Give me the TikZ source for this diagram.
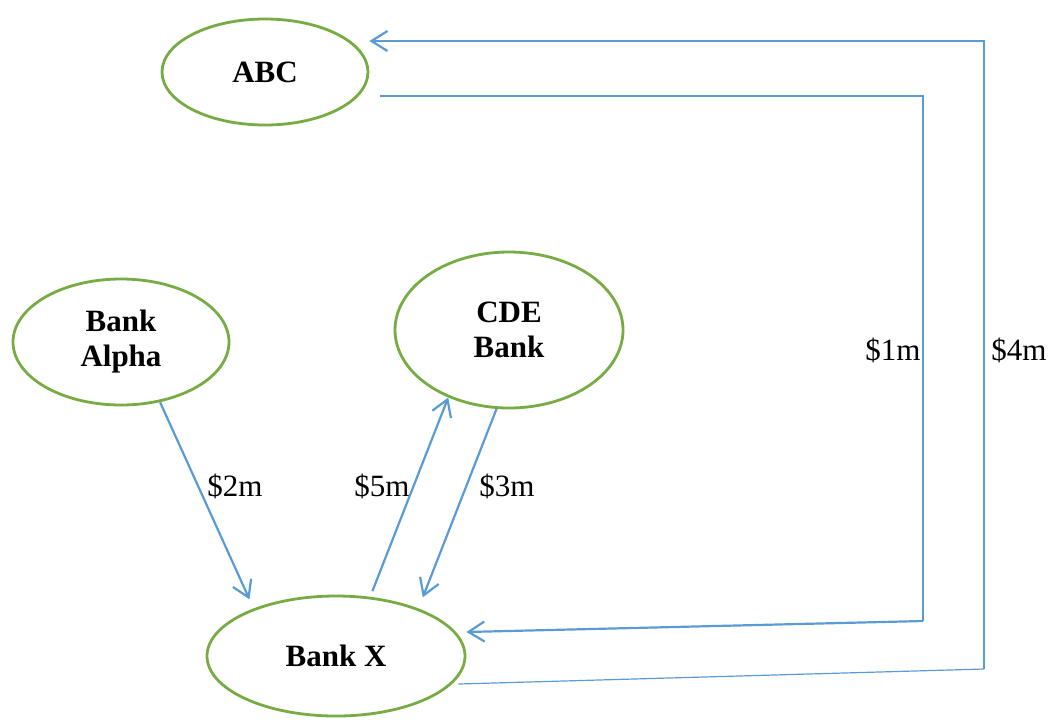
\documentclass[tikz,border=0pt]{standalone}
\usepackage{fontspec}
\setmainfont{Liberation Serif}
\usetikzlibrary{arrows.meta,shapes.geometric}
\definecolor{flowblue}{HTML}{5B9BD5}
\definecolor{bankgreen}{HTML}{77AB43}
\tikzset{
  party/.style={draw=bankgreen, ellipse, line width=1.4pt, font=\fontsize{15.5}{17.5}\selectfont\bfseries, align=center, inner sep=0pt},
  flow/.style={draw=flowblue, line width=1.1pt, -{Straight Barb[length=8pt,width=10pt]}},
  amt/.style={font=\fontsize{15.5}{17.5}\selectfont, inner sep=0pt}
}

\begin{document}
\begin{tikzpicture}[x=0.5pt, y=-0.5pt]
\useasboundingbox (0,0) rectangle (1053,719);
\node[party, minimum width=103pt, minimum height=53pt] (abc) at (265,72) {ABC};
\node[party, minimum width=108pt, minimum height=63pt] (alpha) at (121,342) {Bank\\Alpha};
\node[party, minimum width=114pt, minimum height=78pt] (cde) at (509,330) {CDE\\Bank};
\node[party, minimum width=129pt, minimum height=60pt] (bankx) at (336,656) {Bank X};

\coordinate (c1) at (923,96);
\coordinate (c2) at (923,621);
\coordinate (c3) at (984,669);
\coordinate (c4) at (984,41);

\draw[flow, -] ([xshift=5.5pt,yshift=-12pt]abc.east) -- (c1) -- (c2);
\draw[flow] (c2) -- ([yshift=12pt]bankx.east);
\draw[flow, -, line width=0.6pt] ([xshift=-4pt,yshift=-14pt]bankx.east) -- (c3);
\draw[flow] (c3) -- (c4) -- (c4 -| abc.east);
\draw[flow, shorten >=5pt] (alpha.-57) -- (bankx.150);
\draw[flow, shorten <=3pt] (bankx.60) -- (cde.-132);
\draw[flow, shorten >=6pt] (cde.-99) -- (bankx.30);

\node[amt] (m1) at (893,350) {\$1m};
\node[amt] (m4) at (1019,350) {\$4m};
\node[amt] (m2) at (235,486) {\$2m};
\node[amt] (m5) at (382,486) {\$5m};
\node[amt] (m3) at (507,486) {\$3m};
\end{tikzpicture}
\end{document}
